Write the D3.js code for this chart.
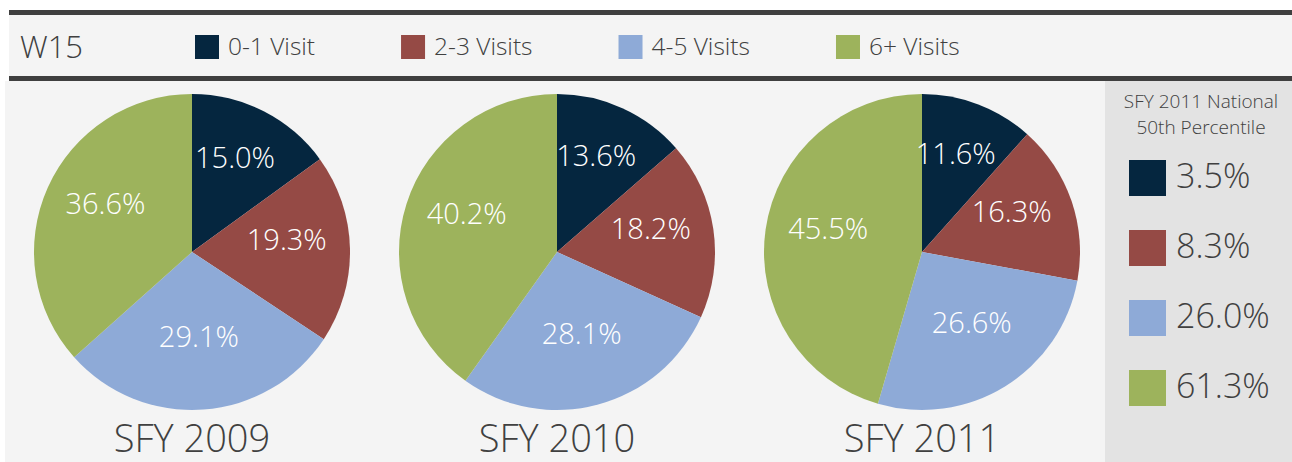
<!DOCTYPE html>
<html>
<head>
<meta charset="utf-8">
<script src="https://cdn.jsdelivr.net/npm/d3@7"></script>
<style>
  body { margin: 0; background: #ffffff; }
  svg { display: block; font-family: "Open Sans", sans-serif; font-weight: 300; }
</style>
</head>
<body>
<div id="chart"></div>
<script>
// categories and values
var categories = ["0-1 Visit", "2-3 Visits", "4-5 Visits", "6+ Visits"];
var colors = ["#05263f", "#954a45", "#8eaad7", "#9db35c"];
var years = ["SFY 2009", "SFY 2010", "SFY 2011"];
var sfy2009 = [15.0, 19.3, 29.1, 36.6];
var sfy2010 = [13.6, 18.2, 28.1, 40.2];
var sfy2011 = [11.6, 16.3, 26.6, 45.5];
var national = [3.5, 8.3, 26.0, 61.3];
var nationalTitle = ["SFY 2011 National", "50th Percentile"];
var chartTitle = "W15";

var width = 1292, height = 462;
var textColor = "#404040";

var svg = d3.select("#chart").append("svg")
    .attr("width", width)
    .attr("height", height);

// background panels
svg.append("rect").attr("x", 9).attr("y", 15).attr("width", width - 9).attr("height", 61).attr("fill", "#f4f4f4");
svg.append("rect").attr("x", 5).attr("y", 81).attr("width", width - 5).attr("height", height - 81).attr("fill", "#f4f4f4");
svg.append("rect").attr("x", 1105).attr("y", 81).attr("width", width - 1105).attr("height", height - 81).attr("fill", "#e3e3e3");

// heavy rules
svg.append("rect").attr("x", 9).attr("y", 10).attr("width", width - 9).attr("height", 5).attr("fill", "#3f3f3f");
svg.append("rect").attr("x", 9).attr("y", 76).attr("width", width - 9).attr("height", 5).attr("fill", "#3f3f3f");

svg.append("text")
    .attr("x", 20).attr("y", 58)
    .style("font-size", "31px")
    .style("fill", textColor)
    .text(chartTitle);

// legend, laid out left to right after each label's width
var legendX = 195;
categories.forEach(function(c, i) {
    var g = svg.append("g").attr("transform", "translate(" + legendX + ",35)");
    g.append("rect")
        .attr("width", 24).attr("height", 24)
        .attr("fill", colors[i]);
    var t = g.append("text")
        .attr("x", 33).attr("y", 20)
        .style("font-size", "24.5px")
        .style("fill", textColor)
        .text(c);
    legendX += 33 + t.node().getComputedTextLength() + 86;
});

// pies
var series = [sfy2009, sfy2010, sfy2011];
var pieX = d3.scalePoint().domain(years).range([192, 922]);
var radius = 158;
var pie = d3.pie().sort(null).value(function(d) { return d; });
var arc = d3.arc().innerRadius(0).outerRadius(radius);
var labelArc = d3.arc().innerRadius(radius * 0.6).outerRadius(radius * 0.6);

years.forEach(function(year, k) {
    var g = svg.append("g")
        .attr("transform", "translate(" + pieX(year) + ",252)");
    var slices = g.selectAll(".slice")
        .data(pie(series[k]))
        .enter();
    slices.append("path")
        .attr("d", arc)
        .attr("fill", function(d, i) { return colors[i]; });
    slices.append("text")
        .attr("transform", function(d) {
            var c = labelArc.centroid(d);
            return "translate(" + c[0] + "," + (c[1] - 10) + ")";
        })
        .attr("dy", "0.36em")
        .attr("text-anchor", "middle")
        .style("font-size", "29px")
        .style("fill", "#ffffff")
        .text(function(d) { return d.value.toFixed(1) + "%"; });
    svg.append("text")
        .attr("x", pieX(year)).attr("y", 452)
        .attr("text-anchor", "middle")
        .style("font-size", "38px")
        .style("fill", textColor)
        .text(year);
});

// national percentile panel
svg.selectAll(".ntitle")
    .data(nationalTitle)
    .enter()
    .append("text")
    .attr("x", 1201)
    .attr("y", function(d, i) { return 108 + i * 26; })
    .attr("text-anchor", "middle")
    .style("font-size", "19px")
    .style("fill", textColor)
    .text(function(d) { return d; });

var nY = d3.scalePoint().domain(d3.range(national.length)).range([160, 370]);
var nat = svg.selectAll(".nat")
    .data(national)
    .enter()
    .append("g")
    .attr("transform", function(d, i) { return "translate(1129," + nY(i) + ")"; });
nat.append("rect")
    .attr("width", 37).attr("height", 36)
    .attr("fill", function(d, i) { return colors[i]; });
nat.append("text")
    .attr("x", 47).attr("y", 28)
    .style("font-size", "34px")
    .style("fill", textColor)
    .text(function(d) { return d.toFixed(1) + "%"; });
</script>
</body>
</html>
